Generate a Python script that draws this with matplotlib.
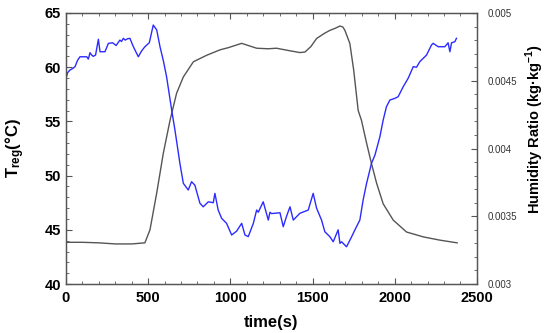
import matplotlib
matplotlib.use("Agg")
import matplotlib.pyplot as plt
from matplotlib.ticker import MultipleLocator

plt.rcParams['font.family'] = ['Liberation Sans', 'DejaVu Sans']
plt.rcParams['mathtext.fontset'] = 'custom'
plt.rcParams['mathtext.bf'] = 'Liberation Sans:bold'
plt.rcParams['mathtext.rm'] = 'Liberation Sans'

# regeneration temperature (black line)
t_temp = [0, 100, 200, 300, 400, 480, 511, 552, 592, 633, 673, 714, 775, 856, 937,
          987, 1069, 1160, 1230, 1281, 1350, 1423, 1454, 1490, 1525, 1570, 1606,
          1640, 1667, 1685, 1697, 1727, 1750, 1778, 1798, 1829, 1859, 1890, 1930,
          1991, 2072, 2174, 2275, 2380]
temp = [43.85, 43.85, 43.8, 43.7, 43.7, 43.8, 45.0, 48.4, 52.05, 55.1, 57.6, 59.1,
        60.5, 61.1, 61.6, 61.8, 62.2, 61.75, 61.7, 61.75, 61.55, 61.35, 61.4, 61.9,
        62.65, 63.1, 63.4, 63.6, 63.8, 63.7, 63.4, 62.2, 59.8, 56.0, 55.1, 53.0,
        51.1, 49.3, 47.4, 45.9, 44.8, 44.35, 44.05, 43.8]

# humidity ratio (blue line)
t_hum = [0, 10, 24, 40, 55, 70, 85, 126, 136, 146, 156, 166, 180, 197, 207, 237, 258,
         284, 305, 328, 338, 349, 360, 375, 389, 410, 440, 460, 480, 507, 531, 552,
         572, 592, 612, 643, 663, 693, 714, 744, 764, 784, 815, 835, 866, 896, 906,
         926, 947, 977, 1008, 1038, 1069, 1089, 1109, 1140, 1160, 1170, 1200, 1231,
         1241, 1251, 1302, 1322, 1342, 1363, 1383, 1423, 1474, 1504, 1525, 1555,
         1575, 1606, 1626, 1656, 1667, 1677, 1707, 1738, 1758, 1788, 1808, 1829,
         1859, 1880, 1910, 1930, 1950, 1971, 2001, 2021, 2052, 2082, 2113, 2133,
         2153, 2194, 2224, 2234, 2265, 2305, 2325, 2336, 2346, 2366, 2376]
hum = [0.004518, 0.00456, 0.004579, 0.00459, 0.004604, 0.00465, 0.004677, 0.004677,
       0.00466, 0.004707, 0.00469, 0.00468, 0.00469, 0.004806, 0.004714, 0.004714,
       0.004776, 0.00478, 0.00476, 0.0048, 0.00479, 0.004813, 0.0048, 0.00481,
       0.004813, 0.004751, 0.004677, 0.00472, 0.004751, 0.004781, 0.004911,
       0.004875, 0.004751, 0.00465, 0.00453, 0.004284, 0.004136, 0.003891,
       0.003743, 0.003694, 0.003755, 0.00373, 0.003596, 0.00357, 0.003607, 0.0036,
       0.003669, 0.003546, 0.003485, 0.003448, 0.003362, 0.00339, 0.003448,
       0.003362, 0.00335, 0.003448, 0.003546, 0.00353, 0.003607, 0.003472,
       0.00353, 0.00352, 0.003526, 0.003423, 0.0035, 0.00357, 0.003472, 0.003522,
       0.003546, 0.003669, 0.003559, 0.003472, 0.003386, 0.003349, 0.003312,
       0.0034, 0.0033, 0.003312, 0.003275, 0.003349, 0.0034, 0.003472, 0.00362,
       0.003743, 0.003891, 0.003952, 0.004087, 0.00421, 0.004309, 0.004358,
       0.00437, 0.004382, 0.004456, 0.004518, 0.004604, 0.0046, 0.004641, 0.00469,
       0.004764, 0.004776, 0.004751, 0.004751, 0.00478, 0.004714, 0.00478,
       0.004788, 0.004813]

x_ticks = [0, 500, 1000, 1500, 2000, 2500]
y_ticks = [40, 45, 50, 55, 60, 65]
h_ticks = [0.003, 0.0035, 0.004, 0.0045, 0.005]
h_labels = ['0.003', '0.0035', '0.004', '0.0045', '0.005']

fig = plt.figure(figsize=(5.5, 3.33), dpi=100)
ax = fig.add_axes([0.12, 0.147, 0.747, 0.814])
ax2 = ax.twinx()

ax.plot(t_temp, temp, color='#555555', linewidth=1.0)
ax2.plot(t_hum, hum, color='#2b2bff', linewidth=1.0)

ax.set_xlim(0, 2500)
ax.set_ylim(40, 65)
ax2.set_ylim(0.003, 0.005)

ax.set_xticks(x_ticks)
ax.set_yticks(y_ticks)
ax.xaxis.set_minor_locator(MultipleLocator(100))
ax.yaxis.set_minor_locator(MultipleLocator(1))
ax2.set_yticks(h_ticks)
ax2.set_yticklabels(h_labels)
ax2.yaxis.set_minor_locator(MultipleLocator(0.0001))

ax.tick_params(axis='both', which='both', direction='in', top=True, right=False,
               color='#555555')
ax.tick_params(which='major', length=4, width=0.8)
ax.tick_params(which='minor', length=2.5, width=0.6)
ax.tick_params(labelsize=10.5)
ax.tick_params(axis='x', pad=5)
for lab in ax.get_xticklabels() + ax.get_yticklabels():
    lab.set_fontweight('bold')

ax2.tick_params(axis='y', which='both', direction='in', color='#555555',
                labelsize=7, labelcolor='#333333', pad=8)
ax2.tick_params(which='major', length=4, width=0.8)
ax2.tick_params(which='minor', length=2.5, width=0.6)

for a in (ax, ax2):
    for s in a.spines.values():
        s.set_color('#555555')
        s.set_linewidth(0.9)

ax.set_xlabel('time(s)', fontsize=12, fontweight='bold', labelpad=7)
ax.set_ylabel(r'$\mathbf{T_{reg}}$(°C)', fontsize=12, fontweight='bold')
ax.yaxis.set_label_coords(-0.095, 0.5)
ax2.set_ylabel('Humidity Ratio (kg·kg$^{\\mathbf{-1}}$)', fontsize=10.5,
               fontweight='bold')
ax2.yaxis.set_label_coords(1.115, 0.57)

fig.savefig('out.png', dpi=100)
